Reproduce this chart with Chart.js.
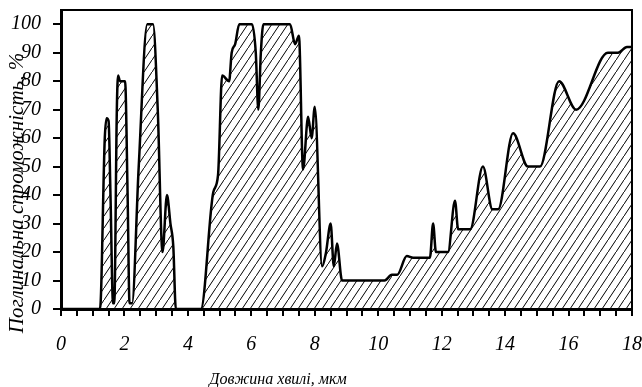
<!DOCTYPE html>
<html>
<head>
<meta charset="utf-8">
<script src="https://cdn.jsdelivr.net/npm/chart.js@4/dist/chart.umd.min.js"></script>
<style>
html,body{margin:0;padding:0;background:#fff;}
#wrap{width:642px;height:387px;position:relative;}
</style>
</head>
<body>
<div id="wrap"><canvas id="c" width="642" height="387"></canvas></div>
<script>
// Wavelength, µm
const wavelength = [0, 1.23, 1.38, 1.44, 1.5, 1.56, 1.64, 1.68, 1.76, 1.8, 1.86, 2.02, 2.1, 2.16, 2.24, 2.45, 2.72, 2.9, 3.05, 3.2, 3.34, 3.45, 3.54, 3.62, 4.41, 4.8, 4.95, 5.08, 5.3, 5.38, 5.49, 5.62, 6.02, 6.14, 6.22, 6.3, 6.38, 7.22, 7.38, 7.5, 7.63, 7.79, 7.9, 8.0, 8.23, 8.35, 8.5, 8.6, 8.7, 8.86, 10.2, 10.43, 10.6, 10.9, 11.1, 11.63, 11.73, 11.82, 12.2, 12.42, 12.52, 12.9, 13.3, 13.6, 13.78, 14.25, 14.72, 15.1, 15.7, 16.24, 17.24, 17.56, 17.84, 18];
// Absorption capacity, %
const absorption = [0, 0, 60, 67, 66, 40, 2, 2, 70, 82, 80, 80, 40, 2, 2, 50, 100, 100, 70, 20, 40, 30, 22, 0, 0, 41, 47, 82, 80, 90, 93, 100, 100, 90, 70, 90, 100, 100, 93, 96, 49, 67.5, 60, 71, 15, 19.6, 30, 15, 23, 10, 10, 12, 12, 18.6, 18, 18, 30, 20, 20, 38, 28, 28, 50, 35, 35, 61.7, 50, 50, 80, 70, 90, 90, 92, 92];
const xTickLabels = ['0','2','4','6','8','10','12','14','16','18'];
const yTickLabels = ['0','10','20','30','40','50','60','70','80','90','100'];
const xTitle = 'Довжина хвилі, мкм';
const yTitle = 'Поглинальна спроможність, %';

const FONT = '"Liberation Serif", "Times New Roman", serif';

// hatch pattern
const pc = document.createElement('canvas');
pc.width = 8; pc.height = 12;
const pctx = pc.getContext('2d');
pctx.strokeStyle = '#000';
pctx.lineWidth = 1;
pctx.beginPath();
pctx.moveTo(-2, 15); pctx.lineTo(10, -3);
pctx.stroke();
const hatch = pctx.createPattern(pc, 'repeat');

const points = wavelength.map((x, i) => ({x: x, y: absorption[i]}));

const framePlugin = {
  id: 'frame',
  afterDraw(chart) {
    const ctx = chart.ctx, a = chart.chartArea;
    ctx.save();
    ctx.strokeStyle = '#000';
    ctx.lineWidth = 2;
    ctx.beginPath();
    ctx.moveTo(a.left, a.top);
    ctx.lineTo(a.right, a.top);
    ctx.lineTo(a.right, a.bottom);
    ctx.stroke();
    ctx.fillStyle = '#000';
    ctx.font = 'italic 16px ' + FONT;
    ctx.textAlign = 'center';
    ctx.textBaseline = 'alphabetic';
    ctx.fillText(xTitle, 278, 384);
    ctx.translate(23, 193);
    ctx.rotate(-Math.PI / 2);
    ctx.font = 'italic 21px ' + FONT;
    ctx.fillText(yTitle, 0, 0);
    ctx.restore();
  }
};

new Chart(document.getElementById('c'), {
  type: 'line',
  data: {
    datasets: [{
      data: points,
      borderColor: '#000',
      borderWidth: 2.5,
      backgroundColor: hatch,
      fill: 'origin',
      pointRadius: 0,
      cubicInterpolationMode: 'monotone'
    }]
  },
  options: {
    responsive: false,
    animation: false,
    layout: {padding: {left: 0, top: 10, right: 10, bottom: 0}},
    plugins: {legend: {display: false}, tooltip: {enabled: false}},
    scales: {
      x: {
        type: 'linear', min: 0, max: 18,
        afterFit(s) { s.height = 78; s.paddingLeft = 0; s.paddingRight = 0; },
        grid: {drawOnChartArea: false, drawTicks: true, tickLength: 7, tickColor: '#000', lineWidth: 2},
        border: {display: true, color: '#000', width: 3},
        ticks: {
          stepSize: 0.5, autoSkip: false, maxRotation: 0, color: '#000', padding: 17,
          font: {family: FONT, style: 'italic', size: 20},
          callback(v) { const s = String(v); return xTickLabels.includes(s) ? s : ''; }
        }
      },
      y: {
        type: 'linear', min: 0, max: 105,
        afterFit(s) { s.width = 61; s.paddingTop = 0; s.paddingBottom = 0; },
        afterBuildTicks(s) { s.ticks = yTickLabels.map(v => ({value: Number(v)})); },
        grid: {drawOnChartArea: false, drawTicks: true, tickLength: 8, tickColor: '#000', lineWidth: 2},
        border: {display: true, color: '#000', width: 3},
        ticks: {
          color: '#000', padding: 12, autoSkip: false,
          font: {family: FONT, style: 'italic', size: 20},
          callback(v) { return String(v); }
        }
      }
    }
  },
  plugins: [framePlugin]
});
</script>
</body>
</html>
